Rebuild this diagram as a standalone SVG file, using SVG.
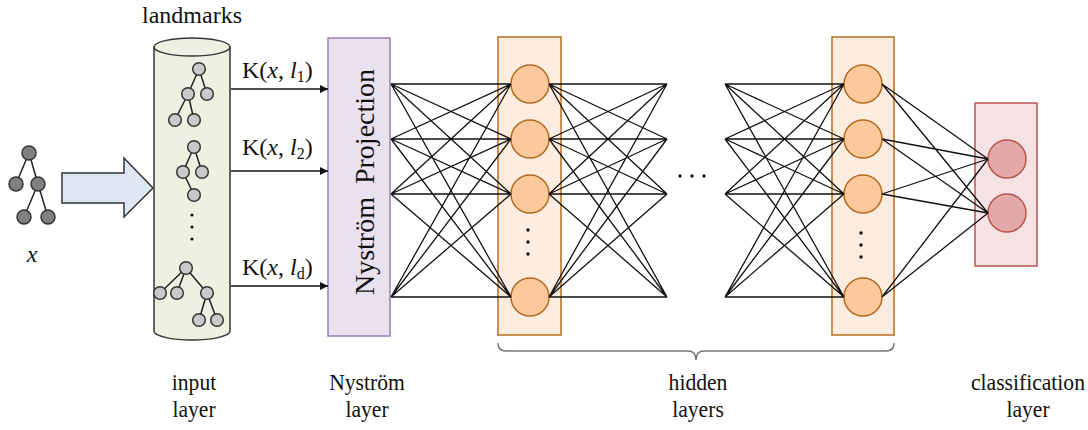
<svg xmlns="http://www.w3.org/2000/svg" width="1088" height="430" viewBox="0 0 1088 430">
  <style>
    .t { font-family: "Liberation Serif", "Times New Roman", serif; fill: #111; }
    .edge { stroke: #111; stroke-width: 1.3; fill: none; }
    .tree { stroke: #222; stroke-width: 1.5; fill: none; }
    .dark { fill: #808080; stroke: #333; stroke-width: 1.5; }
    .light { fill: #c9c9c9; stroke: #333; stroke-width: 1.5; }
    .dot { fill: #111; }
    .hbox { fill: #fdece0; stroke: #b86e1c; stroke-width: 1.5; }
    .hnode { fill: #fbc99c; stroke: #b4691f; stroke-width: 1.5; }
    .cbox { fill: #f5e3e3; stroke: #b85450; stroke-width: 1.5; }
    .cnode { fill: #e3a9a8; stroke: #b85450; stroke-width: 1.5; }
  </style>
  <defs>
    <marker id="arr" viewBox="0 0 10 10" refX="10" refY="5" markerWidth="8" markerHeight="8" markerUnits="userSpaceOnUse" orient="auto">
      <path d="M0,0 L10,5 L0,10 z" fill="#111"/>
    </marker>
  </defs>
  <rect width="1088" height="430" fill="#fff"/>

  <!-- input graph x -->
  <g id="input-graph">
    <path class="tree" d="M29,153 L16,184 M29,153 L38,184 M38,184 L24,217 M38,184 L48,217"/>
    <circle class="dark" cx="29" cy="153" r="7"/>
    <circle class="dark" cx="16" cy="184" r="7"/>
    <circle class="dark" cx="38" cy="184" r="7"/>
    <circle class="dark" cx="24" cy="217" r="7"/>
    <circle class="dark" cx="48" cy="217" r="7"/>
    <text class="t" x="32" y="262" font-size="24" font-style="italic" text-anchor="middle">x</text>
  </g>

  <!-- block arrow -->
  <g id="feed-arrow">
    <path d="M62,173 L124,173 L124,158 L153,188 L124,217 L124,203 L62,203 z" fill="#dee7f3" stroke="#333" stroke-width="1.5"/>
  </g>

  <!-- input layer: landmark cylinder -->
  <g id="input-layer">
    <text class="t" x="192" y="23" font-size="24" text-anchor="middle">landmarks</text>
    <path d="M154,47 L154,331 A38,9 0 0 0 230,331 L230,47" fill="#edf1e2" stroke="#333" stroke-width="1.5"/>
    <ellipse cx="192" cy="47" rx="38" ry="9" fill="#edf1e2" stroke="#333" stroke-width="1.5"/>
    <!-- landmark 1 -->
    <path class="tree" d="M199,69 L188,94 M199,69 L207,94 M188,94 L175,120 M188,94 L194,120"/>
    <circle class="light" cx="199" cy="69" r="6.3"/>
    <circle class="light" cx="188" cy="94" r="6.3"/>
    <circle class="light" cx="207" cy="94" r="6.3"/>
    <circle class="light" cx="175" cy="120" r="6.3"/>
    <circle class="light" cx="194" cy="120" r="6.3"/>
    <!-- landmark 2 -->
    <path class="tree" d="M194,147 L183,172 M194,147 L202,172 M183,172 L194,195"/>
    <circle class="light" cx="194" cy="147" r="6.3"/>
    <circle class="light" cx="183" cy="172" r="6.3"/>
    <circle class="light" cx="202" cy="172" r="6.3"/>
    <circle class="light" cx="194" cy="195" r="6.3"/>
    <circle class="dot" cx="192" cy="215" r="1.6"/>
    <circle class="dot" cx="192" cy="227" r="1.6"/>
    <circle class="dot" cx="192" cy="239" r="1.6"/>
    <!-- landmark d -->
    <path class="tree" d="M186,268 L160,293 M186,268 L177,293 M186,268 L207,293 M207,293 L199,320 M207,293 L217,320"/>
    <circle class="light" cx="186" cy="268" r="6.3"/>
    <circle class="light" cx="160" cy="293" r="6.3"/>
    <circle class="light" cx="177" cy="293" r="6.3"/>
    <circle class="light" cx="207" cy="293" r="6.3"/>
    <circle class="light" cx="199" cy="320" r="6.3"/>
    <circle class="light" cx="217" cy="320" r="6.3"/>
  </g>

  <!-- Nyström layer -->
  <g id="nystrom-layer">
    <rect x="328" y="38" width="62" height="298" fill="#e8e2f0" stroke="#9a7fb5" stroke-width="1.5"/>
    <text class="t" transform="translate(374,182) rotate(-90)" font-size="28" text-anchor="middle" word-spacing="6">Nyström Projection</text>
  </g>

  <!-- hidden layer 1 -->
  <g id="hidden-layer-1">
    <rect class="hbox" x="498" y="37" width="63" height="298"/>
    <circle class="hnode" cx="530" cy="84" r="19"/>
    <circle class="hnode" cx="530" cy="139" r="19"/>
    <circle class="hnode" cx="530" cy="194" r="19"/>
    <circle class="hnode" cx="530" cy="297" r="19"/>
    <circle class="dot" cx="528" cy="230" r="1.7"/>
    <circle class="dot" cx="528" cy="242" r="1.7"/>
    <circle class="dot" cx="528" cy="254" r="1.7"/>
  </g>

  <!-- hidden layer n -->
  <g id="hidden-layer-n">
    <rect class="hbox" x="832" y="37" width="62" height="298"/>
    <circle class="hnode" cx="863" cy="84" r="19"/>
    <circle class="hnode" cx="863" cy="139" r="19"/>
    <circle class="hnode" cx="863" cy="194" r="19"/>
    <circle class="hnode" cx="863" cy="297" r="19"/>
    <circle class="dot" cx="861" cy="233" r="1.7"/>
    <circle class="dot" cx="861" cy="245" r="1.7"/>
    <circle class="dot" cx="861" cy="257" r="1.7"/>
  </g>

  <!-- skipped layers -->
  <g id="layer-gap">
    <circle class="dot" cx="680" cy="176" r="1.7"/>
    <circle class="dot" cx="692" cy="176" r="1.7"/>
    <circle class="dot" cx="704" cy="176" r="1.7"/>
  </g>

  <!-- classification layer -->
  <g id="classification-layer">
    <rect class="cbox" x="975" y="103" width="62" height="163"/>
    <circle class="cnode" cx="1007" cy="159" r="19"/>
    <circle class="cnode" cx="1007" cy="213" r="19"/>
  </g>

  <!-- connectors -->
  <g id="connectors">
    <!-- kernel evaluations -->
    <line class="edge" x1="231" y1="89" x2="328" y2="89" marker-end="url(#arr)"/>
    <line class="edge" x1="231" y1="171" x2="328" y2="171" marker-end="url(#arr)"/>
    <line class="edge" x1="231" y1="286" x2="328" y2="286" marker-end="url(#arr)"/>
    <!-- Nyström to hidden 1 -->
    <path class="edge" d="M391,84 L511,84 M391,84 L511,139 M391,84 L511,194 M391,84 L511,297
      M391,139 L511,84 M391,139 L511,139 M391,139 L511,194 M391,139 L511,297
      M391,194 L511,84 M391,194 L511,139 M391,194 L511,194 M391,194 L511,297
      M391,297 L511,84 M391,297 L511,139 M391,297 L511,194 M391,297 L511,297"/>
    <!-- hidden 1 outgoing -->
    <path class="edge" d="M549,84 L667,84 M549,84 L667,139 M549,84 L667,194 M549,84 L667,297
      M549,139 L667,84 M549,139 L667,139 M549,139 L667,194 M549,139 L667,297
      M549,194 L667,84 M549,194 L667,139 M549,194 L667,194 M549,194 L667,297
      M549,297 L667,84 M549,297 L667,139 M549,297 L667,194 M549,297 L667,297"/>
    <!-- into hidden n -->
    <path class="edge" d="M725,84 L844,84 M725,84 L844,139 M725,84 L844,194 M725,84 L844,297
      M725,139 L844,84 M725,139 L844,139 M725,139 L844,194 M725,139 L844,297
      M725,194 L844,84 M725,194 L844,139 M725,194 L844,194 M725,194 L844,297
      M725,297 L844,84 M725,297 L844,139 M725,297 L844,194 M725,297 L844,297"/>
    <!-- hidden n to classification -->
    <path class="edge" d="M882,84 L988,159 M882,84 L988,213
      M882,139 L988,159 M882,139 L988,213
      M882,194 L988,159 M882,194 L988,213
      M882,297 L988,159 M882,297 L988,213"/>
    <!-- brace under hidden layers -->
    <path d="M498,343 Q498,351 506,351 L688,351 Q696,351 696,360 Q696,351 704,351 L886,351 Q894,351 894,343" fill="none" stroke="#777" stroke-width="1.5"/>
  </g>

  <!-- kernel labels -->
  <g id="kernel-labels" class="t" font-size="24">
    <text x="242" y="78">K(<tspan font-style="italic">x</tspan>, <tspan font-style="italic">l</tspan><tspan font-size="16" dy="4">1</tspan><tspan dy="-4">)</tspan></text>
    <text x="242" y="155">K(<tspan font-style="italic">x</tspan>, <tspan font-style="italic">l</tspan><tspan font-size="16" dy="4">2</tspan><tspan dy="-4">)</tspan></text>
    <text x="242" y="275">K(<tspan font-style="italic">x</tspan>, <tspan font-style="italic">l</tspan><tspan font-size="16" dy="4">d</tspan><tspan dy="-4">)</tspan></text>
  </g>

  <!-- layer captions -->
  <g id="captions" class="t" font-size="24" text-anchor="middle">
    <text transform="translate(194,390) scale(0.9,1)">input</text>
    <text transform="translate(194,417) scale(0.9,1)">layer</text>
    <text transform="translate(367,390) scale(0.9,1)">Nyström</text>
    <text transform="translate(367,417) scale(0.9,1)">layer</text>
    <text transform="translate(698,390) scale(0.9,1)">hidden</text>
    <text transform="translate(698,417) scale(0.9,1)">layers</text>
    <text transform="translate(1028,390) scale(0.9,1)">classification</text>
    <text transform="translate(1028,417) scale(0.9,1)">layer</text>
  </g>
</svg>
